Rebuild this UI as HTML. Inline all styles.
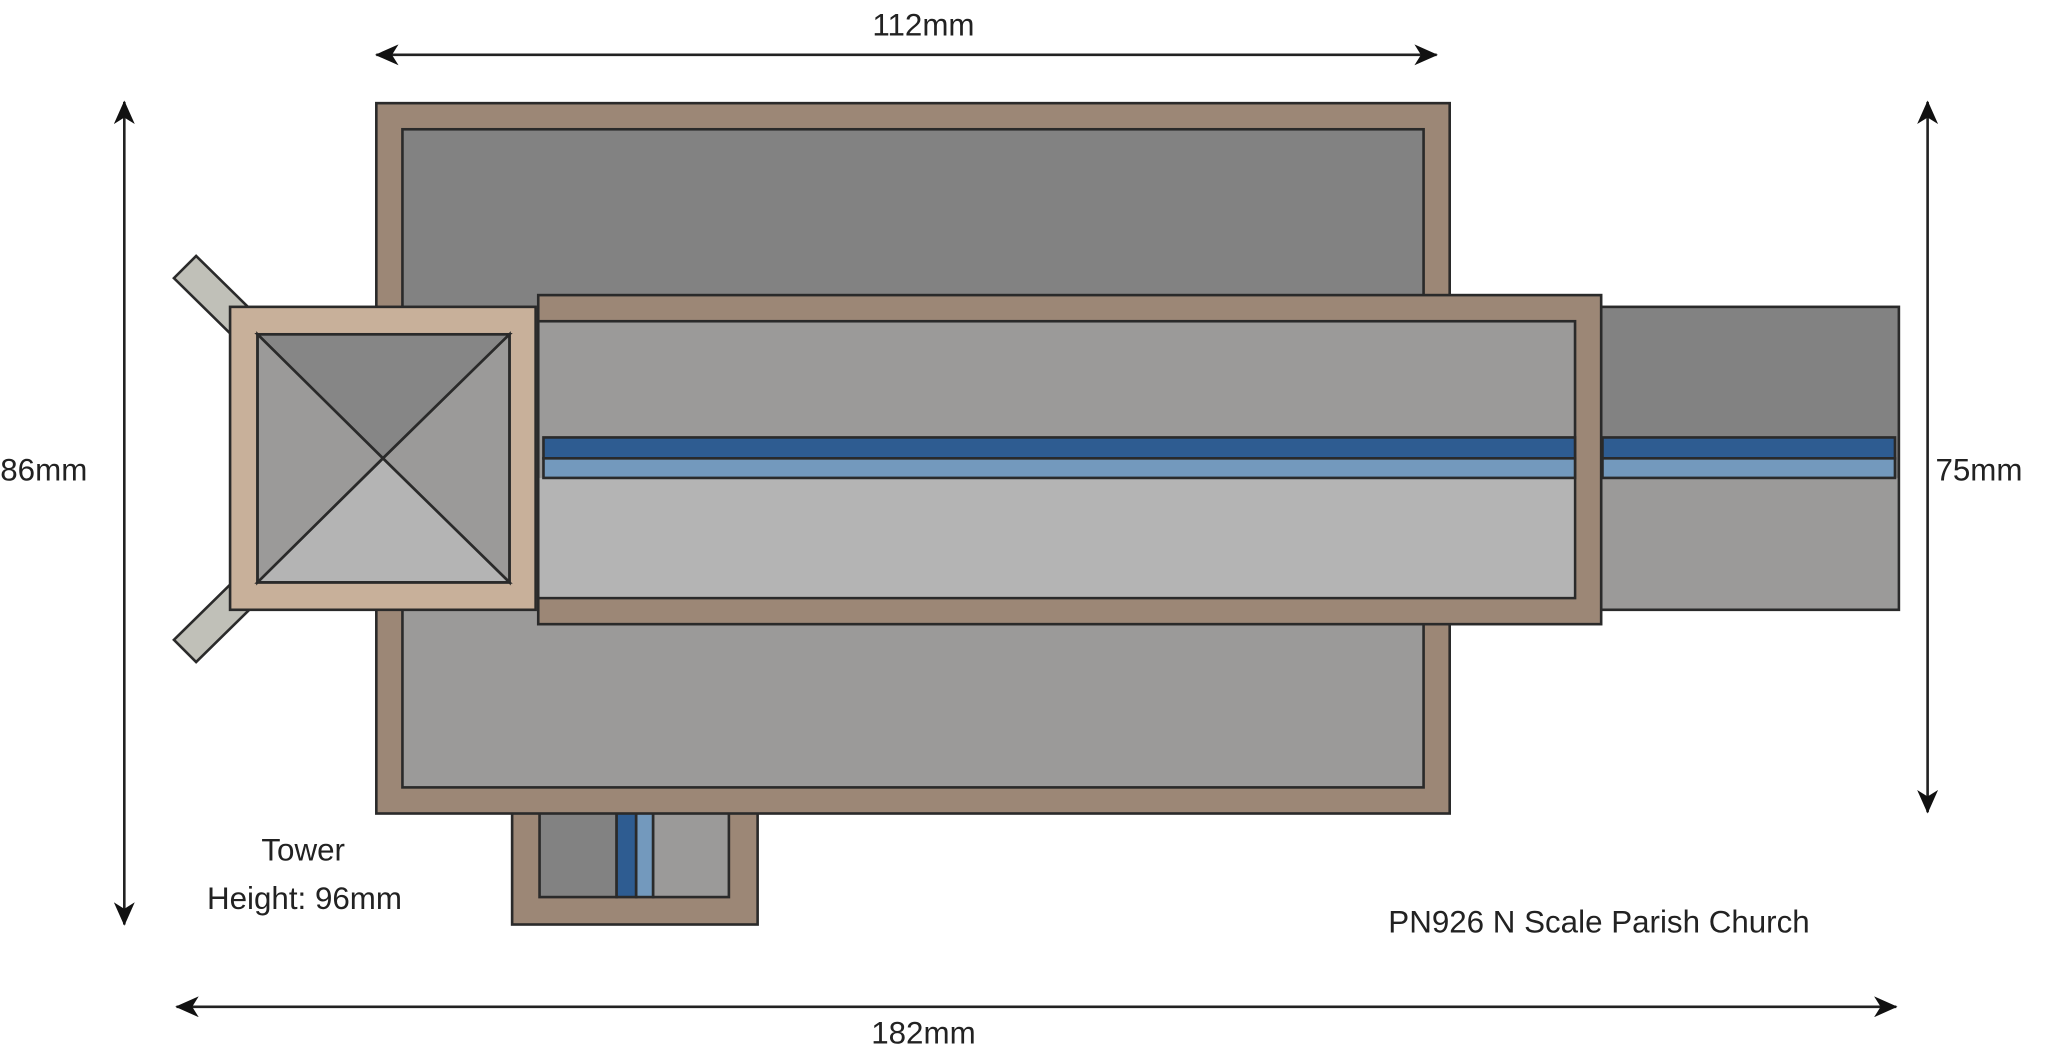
<!DOCTYPE html>
<html><head><meta charset="utf-8"><style>html,body{margin:0;padding:0;background:#fff}svg{display:block}</style></head>
<body>
<svg width="2048" height="1059" viewBox="0 0 1568 811" xmlns="http://www.w3.org/2000/svg" font-family="Liberation Sans, sans-serif">
<defs>
<marker id="ah" viewBox="0 0 20 16" refX="19" refY="8" markerWidth="20" markerHeight="16" markerUnits="userSpaceOnUse" orient="auto-start-reverse">
<path d="M20,8 L2,0 L7,8 L2,16 Z" fill="#111"/>
</marker>
</defs>
<g stroke="#222" stroke-width="2">
<line x1="288" y1="42" x2="1100" y2="42" marker-start="url(#ah)" marker-end="url(#ah)"/>
<line x1="95" y1="78" x2="95" y2="708" marker-start="url(#ah)" marker-end="url(#ah)"/>
<line x1="1476" y1="78" x2="1476" y2="622" marker-start="url(#ah)" marker-end="url(#ah)"/>
<line x1="135" y1="771" x2="1452" y2="771" marker-start="url(#ah)" marker-end="url(#ah)"/>
</g>
<g stroke="#2a2a2a" stroke-width="2">
<polygon points="133,213 150,196 210,255 193,272" fill="#c0c0b8"/>
<polygon points="133,490 150,507 210,448 193,431" fill="#c0c0b8"/>
<rect x="392" y="612" width="188" height="96" fill="#9c8776"/>
<rect x="413" y="612" width="59" height="75" fill="#828282"/>
<rect x="472" y="612" width="15" height="75" fill="#2e5c91"/>
<rect x="487" y="612" width="13" height="75" fill="#7399bd"/>
<rect x="500" y="612" width="58" height="75" fill="#9b9a99"/>
<rect x="288" y="79" width="822" height="544" fill="#9c8776"/>
<rect x="308" y="99" width="782" height="252" fill="#828282" stroke="none"/>
<rect x="308" y="351" width="782" height="252" fill="#9b9a99" stroke="none"/>
<rect x="308" y="99" width="782" height="504" fill="none"/>
<rect x="1226" y="235" width="228" height="232" fill="#828282"/>
<rect x="1227" y="366" width="226" height="100" fill="#9b9a99" stroke="none"/>
<rect x="1227" y="335" width="224" height="16" fill="#2e5c91"/>
<rect x="1227" y="351" width="224" height="15" fill="#7399bd"/>
<rect x="412" y="226" width="814" height="252" fill="#9c8776"/>
<rect x="412" y="246" width="794" height="212" fill="#9b9a99"/>
<rect x="413" y="366" width="792" height="91" fill="#b4b4b4" stroke="none"/>
<rect x="416" y="335" width="790" height="16" fill="#2e5c91"/>
<rect x="416" y="351" width="790" height="15" fill="#7399bd"/>
<rect x="176" y="235" width="234" height="232" fill="#c8b09a"/>
<polygon points="197,256 390,256 293,351" fill="#868686"/>
<polygon points="197,256 293,351 197,446" fill="#9b9a99"/>
<polygon points="390,256 293,351 390,446" fill="#9b9a99"/>
<polygon points="197,446 293,351 390,446" fill="#b4b4b4"/>
<rect x="197" y="256" width="193" height="190" fill="none"/>
<line x1="197" y1="256" x2="390" y2="446" stroke-width="1.5"/>
<line x1="390" y1="256" x2="197" y2="446" stroke-width="1.5"/>
</g>
<g fill="#222" font-size="24">
<text x="707" y="27" text-anchor="middle">112mm</text>
<text x="0" y="368">86mm</text>
<text x="1482" y="368">75mm</text>
<text x="707" y="799" text-anchor="middle">182mm</text>
<text x="232" y="659" text-anchor="middle">Tower</text>
<text x="233" y="696" text-anchor="middle">Height: 96mm</text>
<text x="1063" y="714">PN926 N Scale Parish Church</text>
</g>
</svg>
</body></html>
